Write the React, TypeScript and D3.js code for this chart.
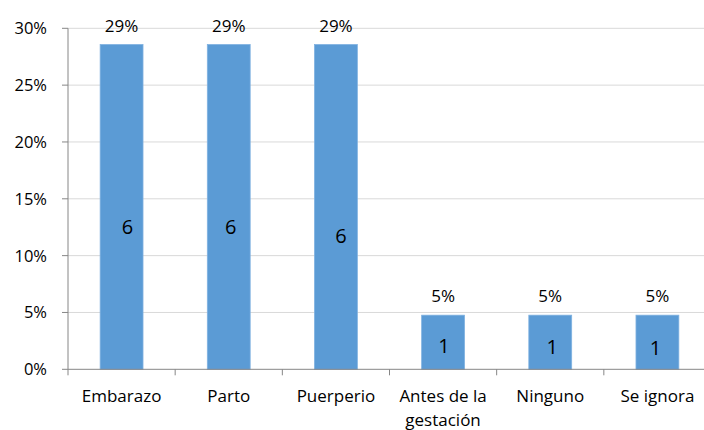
import React from "react";
import * as d3 from "d3";

const categories = ["Embarazo", "Parto", "Puerperio", "Antes de la gestación", "Ninguno", "Se ignora"];
const counts = [6, 6, 6, 1, 1, 1];
const yTicks = [0, 0.05, 0.1, 0.15, 0.2, 0.25, 0.3];

const W = 704;
const H = 430;
const M = { left: 68, top: 28.3, bottom: 369.3 };
const plotRight = 711;
const FONT = "'Open Sans', 'Noto Sans', sans-serif";
const labelNudge = [
  { dx: 6, dy: 0 },
  { dx: 2, dy: 0 },
  { dx: 5, dy: 9 },
  { dx: 1, dy: 0 },
  { dx: 2, dy: 1 },
  { dx: -2, dy: 2 },
];

function wrapLabel(s: string): string[] {
  if (s === "Antes de la gestación") return ["Antes de la", "gestación"];
  return [s];
}

export default function App() {
  const total = d3.sum(counts);
  const pcts = counts.map((c) => c / total);
  const x = d3.scaleBand<string>().domain(categories).range([M.left, plotRight]).paddingInner(0.6).paddingOuter(0.3);
  const xStep = d3.scaleBand<string>().domain(categories).range([M.left, plotRight]);
  const y = d3.scaleLinear().domain([0, 0.3]).range([M.bottom, M.top]);
  const fmt = d3.format(".0%");

  return (
    <svg width={W} height={H} style={{ position: "absolute", left: 0, top: 0, background: "#fff" }}>
      <rect x={0} y={0} width={W} height={H} fill="#fff" />
      {yTicks.map((t) => (
        <g key={t}>
          {t > 0 && <line x1={M.left} x2={W} y1={y(t)} y2={y(t)} stroke="#d9d9d9" strokeWidth={1} />}
          <line x1={M.left - 6} x2={M.left} y1={y(t)} y2={y(t)} stroke="#868686" strokeWidth={1} />
          <text x={47} y={y(t)} dy="0.36em" textAnchor="end" fontFamily={FONT} fontSize={16.5} fill="#000">
            {fmt(t)}
          </text>
        </g>
      ))}
      {categories.map((c, i) => {
        const v = pcts[i];
        const bx = x(c)!;
        const bw = x.bandwidth();
        const cx = bx + bw / 2;
        return (
          <g key={c}>
            <rect x={bx} y={y(v)} width={bw} height={y(0) - y(v)} fill="#5b9bd5" stroke="#7fb1e0" strokeWidth={0.8} />
            <text x={cx} y={y(v) - 19} dy="0.36em" textAnchor="middle" fontFamily={FONT} fontSize={17} fill="#000">
              {fmt(v)}
            </text>
            <text
              x={cx + labelNudge[i].dx}
              y={y(v * 0.44) + labelNudge[i].dy}
              dy="0.36em"
              textAnchor="middle"
              fontFamily={FONT}
              fontSize={20}
              fill="#000"
            >
              {counts[i]}
            </text>
            {wrapLabel(c).map((line, j) => (
              <text
                key={j}
                x={xStep(c)! + xStep.bandwidth() / 2}
                y={396 + j * 23.5}
                dy="0.36em"
                textAnchor="middle"
                fontFamily={FONT}
                fontSize={17}
                fill="#000"
              >
                {line}
              </text>
            ))}
          </g>
        );
      })}
      <line x1={M.left} x2={M.left} y1={M.top} y2={M.bottom} stroke="#868686" strokeWidth={1} />
      <line x1={M.left} x2={W} y1={M.bottom} y2={M.bottom} stroke="#868686" strokeWidth={1} />
      {categories.map((c, i) => (
        <line
          key={"t" + i}
          x1={xStep(c)!}
          x2={xStep(c)!}
          y1={M.bottom}
          y2={M.bottom + 6}
          stroke="#868686"
          strokeWidth={1}
        />
      ))}
    </svg>
  );
}
